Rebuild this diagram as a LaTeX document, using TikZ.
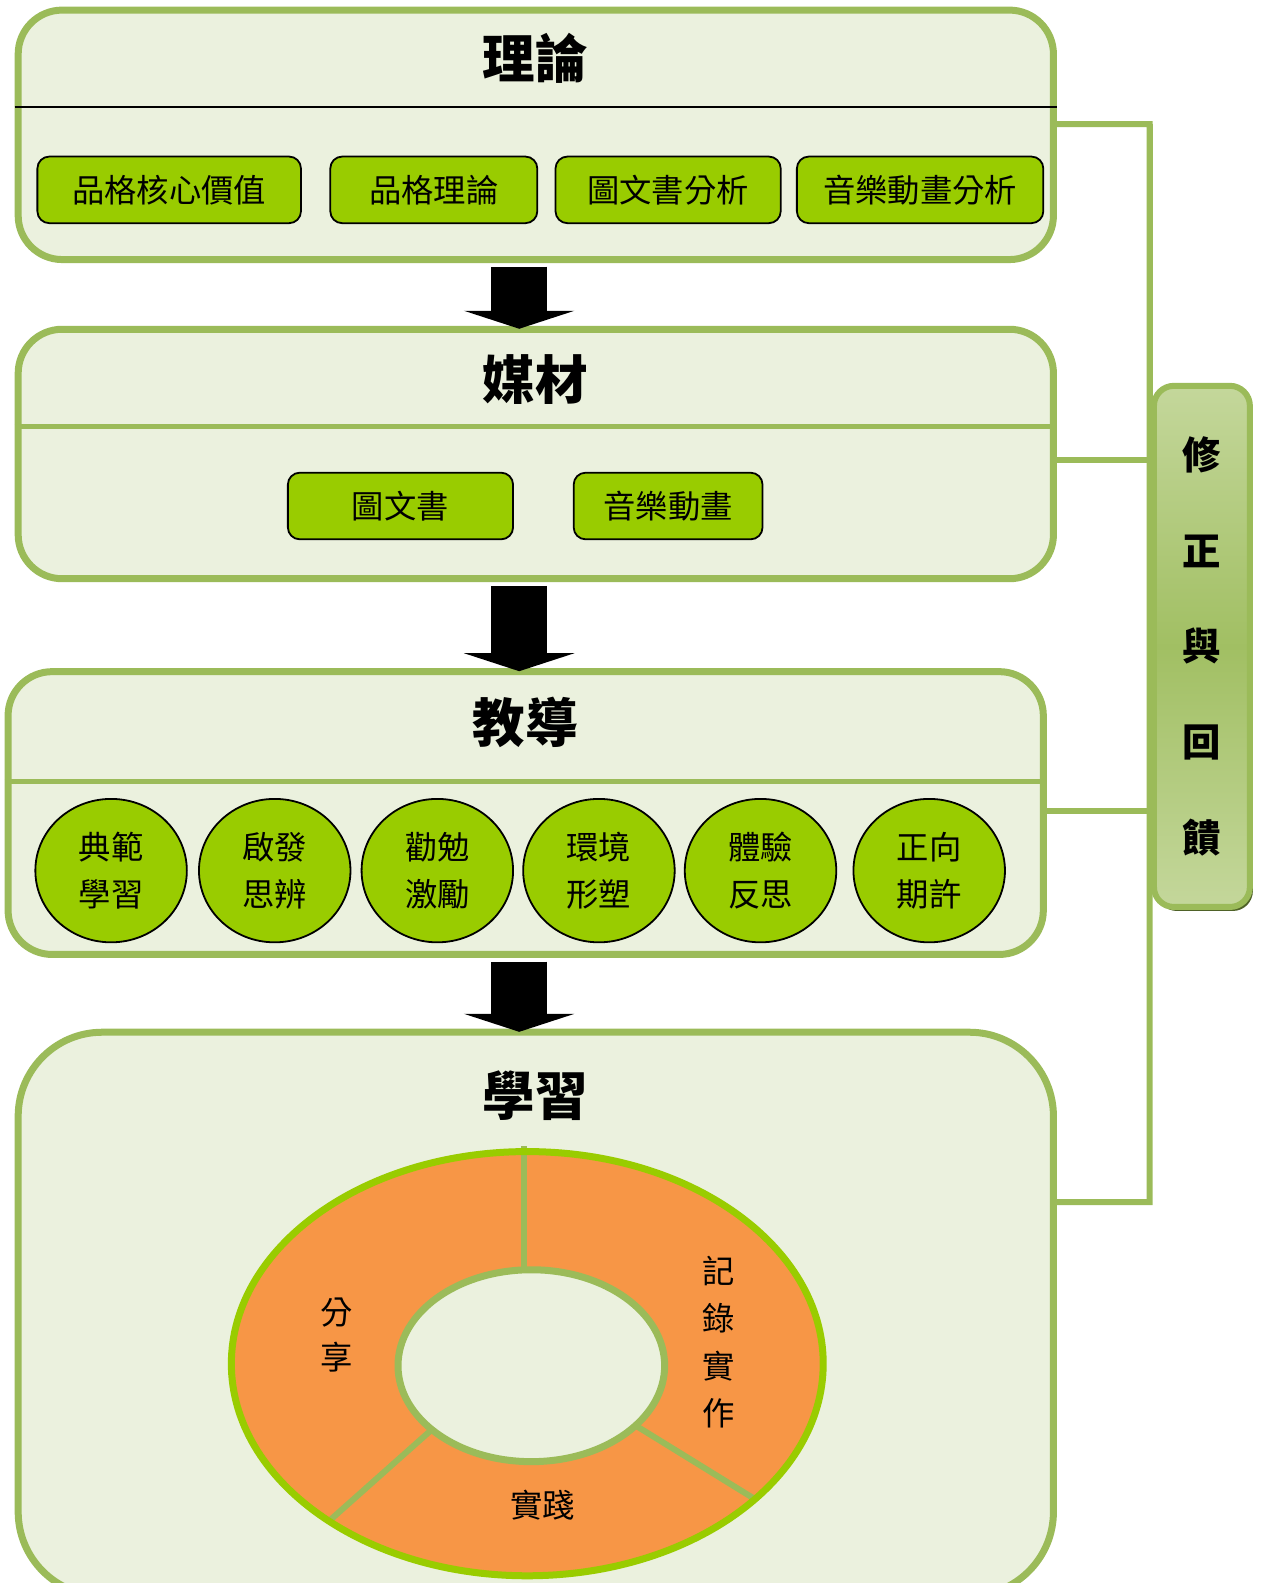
\documentclass[tikz,border=0pt]{standalone}
\usepackage{fontspec}
\newfontfamily\cjk{Noto Sans CJK TC}
\usetikzlibrary{shapes.geometric,arrows.meta,shadows}

\definecolor{boxline}{HTML}{9BBB59}
\definecolor{boxfill}{HTML}{EBF1DE}
\definecolor{itemfill}{HTML}{99CC00}
\definecolor{ringfill}{HTML}{F79646}
\definecolor{barlight}{HTML}{C4D79B}
\definecolor{bardark}{HTML}{4F6228}

\tikzset{
  stagebox/.style={draw=boxline, fill=boxfill, line width=3.5pt, rounded corners=22pt,
    minimum width=512.5pt, minimum height=123.5pt, inner sep=0pt},
  stagetitle/.style={font=\cjk\bfseries\fontsize{26}{30}\selectfont},
  itembox/.style={draw=black, fill=itemfill, line width=0.9pt, rounded corners=6pt,
    minimum height=33pt, inner sep=0pt, font=\cjk\fontsize{16}{20}\selectfont},
  itemcircle/.style={draw=black, fill=itemfill, line width=0.9pt, ellipse,
    minimum width=75pt, minimum height=71pt, inner sep=0pt, align=center,
    font=\cjk\fontsize{16}{23.5}\selectfont},
  busline/.style={draw=boxline, line width=3pt},
  blockarrow/.style={line width=28pt, -{Triangle[width=55pt,length=9pt]},
    shorten <=1.75pt, shorten >=-1.5pt},
  ringtext/.style={align=center, font=\cjk\fontsize{16}{23}\selectfont},
}

\begin{document}
\begin{tikzpicture}[x=0.5pt,y=-0.5pt]

  \useasboundingbox (0,0) rectangle (1261,1583);
  \clip (0,0) rectangle (1261,1583); % page size of the figure

  \begin{scope}[scale=1.01, transform shape]
  % the four stages
  \node[stagebox] (Theory) at (530.5,133.5) {};
  \node[stagebox] (Media) at (530.5,449.5) {};
  \node[stagebox, minimum height=140pt] (Teaching) at (520.5,805) {};
  \node[stagebox, minimum height=279pt, rounded corners=42pt] (Learning) at (530.5,1301) {};

  % header lines
  \draw[black, line width=1pt] ([yshift=13.75pt]Theory.west) -- ([yshift=13.75pt]Theory.east);
  \draw[boxline, line width=2.5pt] ([yshift=13.75pt]Media.west) -- ([yshift=13.75pt]Media.east);
  \draw[boxline, line width=2.5pt] ([yshift=15.5pt]Teaching.west) -- ([yshift=15.5pt]Teaching.east);

  \node[stagetitle] (TheoryTitle) at (530,58) {理論};
  \node[stagetitle] (MediaTitle) at (530,376) {媒材};
  \node[stagetitle] (TeachingTitle) at (520,715) {教導};
  \node[stagetitle] (LearningTitle) at (530,1085) {學習};

  % boxes of the first two stages
  \foreach \name/\x/\w/\txt in {CoreValue/167.5/130.5/品格核心價值, CharTheory/429.5/102.5/品格理論,
      BookAnalysis/661.5/111.5/圖文書分析, FilmAnalysis/911/122/音樂動畫分析}{%
    \node[itembox, minimum width=\w pt] (\name) at (\x,188) {\txt};
  }
  \foreach \name/\x/\w/\txt in {PictureBook/396.5/111.5/圖文書, MusicFilm/661.5/93.5/音樂動畫}{%
    \node[itembox, minimum width=\w pt] (\name) at (\x,501) {\txt};
  }

  % teaching methods
  \foreach \name/\x/\txt in {Model/110/{典範\\學習}, Inspire/272/{啟發\\思辨}, Encourage/433/{勸勉\\激勵},
      Setting/593/{環境\\形塑}, Reflect/753/{體驗\\反思}, Expect/920/{正向\\期許}}{%
    \node[itemcircle] (\name) at (\x,862) {\txt};
  }

  % arrows between the stages
  \coordinate (ArrowAxis) at (514,0);
  \draw[blockarrow] (Theory.south -| ArrowAxis) -- (Media.north -| ArrowAxis);
  \draw[blockarrow] (Media.south -| ArrowAxis) -- (Teaching.north -| ArrowAxis);
  \draw[blockarrow] (Teaching.south -| ArrowAxis) -- (Learning.north -| ArrowAxis);

  % feedback line
  \coordinate (BusTop) at (1138,123);
  \coordinate (BusBottom) at (1138,1190);
  \draw[busline] ([yshift=5.25pt]Theory.east) -- (BusTop) -- (BusBottom) -- ([yshift=55.5pt]Learning.east);
  \draw[busline] ([yshift=-2.75pt]Media.east) -| (BusTop);
  \draw[busline] ([yshift=1.25pt]Teaching.east) -| (BusTop);

  \node[draw=boxline, line width=3pt, rounded corners=10pt,
    top color=barlight, bottom color=barlight, middle color=boxline!85!barlight,
    drop shadow={fill=bardark, shadow xshift=1.5pt, shadow yshift=-2pt, opacity=1},
    minimum width=47.5pt, minimum height=258pt, align=center,
    font=\cjk\bfseries\fontsize{19}{47.5}\selectfont] (Feedback) at (1190,640) {修\\正\\與\\回\\饋};

  % the learning ring
  \coordinate (RingCenter) at (522,1350);
  \coordinate (HoleCenter) at (526,1352);
  \fill[ringfill] (RingCenter) ellipse [x radius=293, y radius=210];
  \draw[boxline, line width=3pt] (519,1135) -- (519,1265);
  \draw[boxline, line width=3pt] (428,1415) -- (328,1504);
  \draw[boxline, line width=3pt] (627,1410) -- (747,1484);
  \filldraw[fill=boxfill, draw=boxline, line width=3.5pt] (HoleCenter) ellipse [x radius=132, y radius=95];
  \draw[itemfill, line width=3.5pt] (RingCenter) ellipse [x radius=293, y radius=210];

  \node[ringtext, font=\cjk\fontsize{16}{22.5}\selectfont] (Share) at (333,1322) {分\\享};
  \node[ringtext, font=\cjk\fontsize{16}{23.5}\selectfont] (Record) at (712,1329) {記\\錄\\實\\作};
  \node[ringtext] (Practice) at (537,1490) {實踐};
  \end{scope}

\end{tikzpicture}
\end{document}
